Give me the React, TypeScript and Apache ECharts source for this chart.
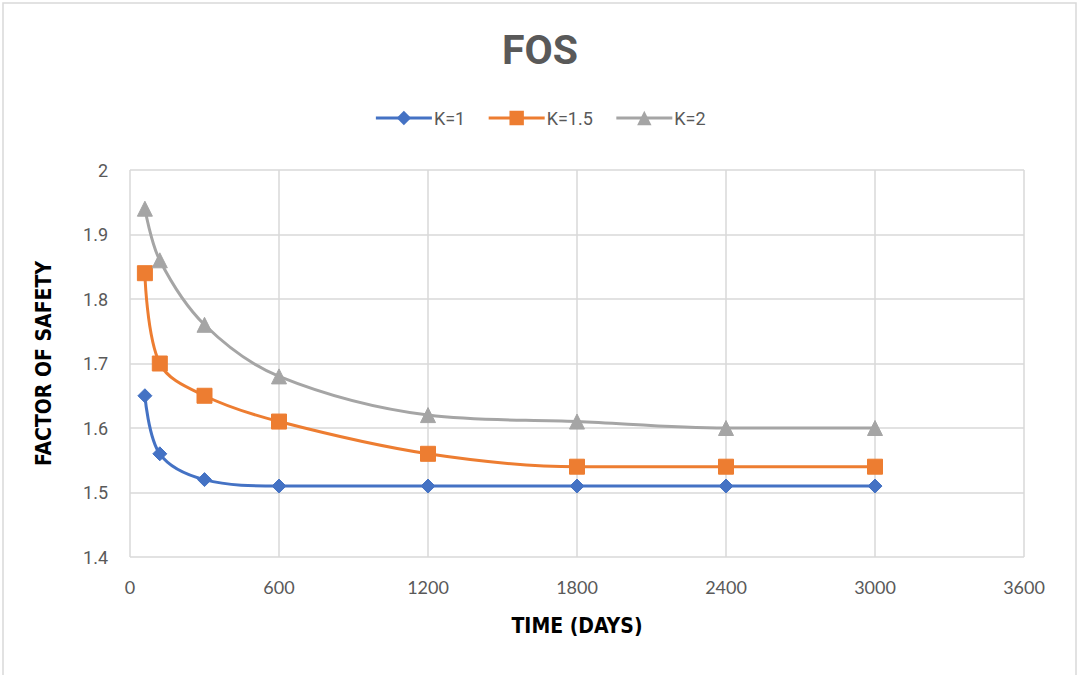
import React, { useEffect, useRef } from "react";
import * as echarts from "echarts";

// Time in days and factor of safety for each permeability ratio K
const days = [60, 120, 300, 600, 1200, 1800, 2400, 3000];
const fosK1 = [1.65, 1.56, 1.52, 1.51, 1.51, 1.51, 1.51, 1.51];
const fosK15 = [1.84, 1.7, 1.65, 1.61, 1.56, 1.54, 1.54, 1.54];
const fosK2 = [1.94, 1.86, 1.76, 1.68, 1.62, 1.61, 1.6, 1.6];

const seriesNames = ["K=1", "K=1.5", "K=2"];
const seriesColors = ["#4472C4", "#ED7D31", "#A5A5A5"];
const seriesSymbols = ["diamond", "rect", "triangle"];

const toPairs = (ys: number[]) => days.map((d, i) => [d, ys[i]]);

const condensedBold = "'DejaVu Sans Condensed', 'Roboto', sans-serif";

export default function App() {
  const ref = useRef<HTMLDivElement>(null);

  useEffect(() => {
    if (!ref.current) return;
    const chart = echarts.init(ref.current, undefined, { renderer: "svg" });
    const values = [fosK1, fosK15, fosK2];
    const symbolSizes = [14, 15, 15];

    chart.setOption({
      animation: false,
      backgroundColor: "#ffffff",
      title: {
        text: "FOS",
        left: "center",
        top: 24,
        textStyle: {
          fontFamily: "Roboto",
          fontSize: 41,
          fontWeight: "bold",
          color: "#595959",
        },
      },
      legend: {
        top: 104,
        left: "center",
        itemWidth: 56,
        itemHeight: 18,
        itemGap: 22,
        textStyle: { fontFamily: "Roboto", fontSize: 18, color: "#595959", padding: [0, 0, 0, -3] },
        lineStyle: { width: 3 },
        data: seriesNames,
      },
      grid: { left: 130, right: 56, top: 170, bottom: 118 },
      xAxis: {
        type: "value",
        min: 0,
        max: 3600,
        interval: 600,
        name: "TIME (DAYS)",
        nameLocation: "middle",
        nameGap: 58,
        nameTextStyle: {
          fontFamily: condensedBold,
          fontSize: 21,
          fontWeight: "bold",
          color: "#000000",
        },
        axisLine: { show: false },
        axisTick: { show: false },
        axisLabel: {
          fontFamily: "Lato",
          fontSize: 18,
          color: "#595959",
          margin: 21,
          formatter: (v: number) => String(v),
        },
        splitLine: { lineStyle: { color: "#D9D9D9", width: 1.5 } },
      },
      yAxis: {
        type: "value",
        min: 1.4,
        max: 2,
        interval: 0.1,
        name: "FACTOR OF SAFETY",
        nameLocation: "middle",
        nameGap: 76,
        nameTextStyle: {
          fontFamily: condensedBold,
          fontSize: 21,
          fontWeight: "bold",
          color: "#000000",
        },
        axisLine: { show: false },
        axisTick: { show: false },
        axisLabel: {
          fontFamily: "Roboto",
          fontSize: 18,
          color: "#595959",
          margin: 22,
          formatter: (v: number) => String(Math.round(v * 10) / 10),
        },
        splitLine: { lineStyle: { color: "#D9D9D9", width: 1.5 } },
      },
      graphic: [
        {
          type: "rect",
          shape: { x: 3, y: 3, width: 1073, height: 690 },
          style: { fill: "none", stroke: "#D9D9D9", lineWidth: 1.5 },
          silent: true,
        },
      ],
      series: seriesNames.map((name, i) => ({
        name,
        type: "line",
        data: toPairs(values[i]),
        smooth: 0.35,
        symbol: seriesSymbols[i],
        symbolSize: symbolSizes[i],
        showSymbol: true,
        lineStyle: { color: seriesColors[i], width: 3 },
        itemStyle: { color: seriesColors[i], borderColor: seriesColors[i] },
        z: 2 + i,
      })),
    });

    return () => chart.dispose();
  }, []);

  return <div ref={ref} style={{ width: 1080, height: 675, position: "absolute", left: 0, top: 0 }} />;
}
